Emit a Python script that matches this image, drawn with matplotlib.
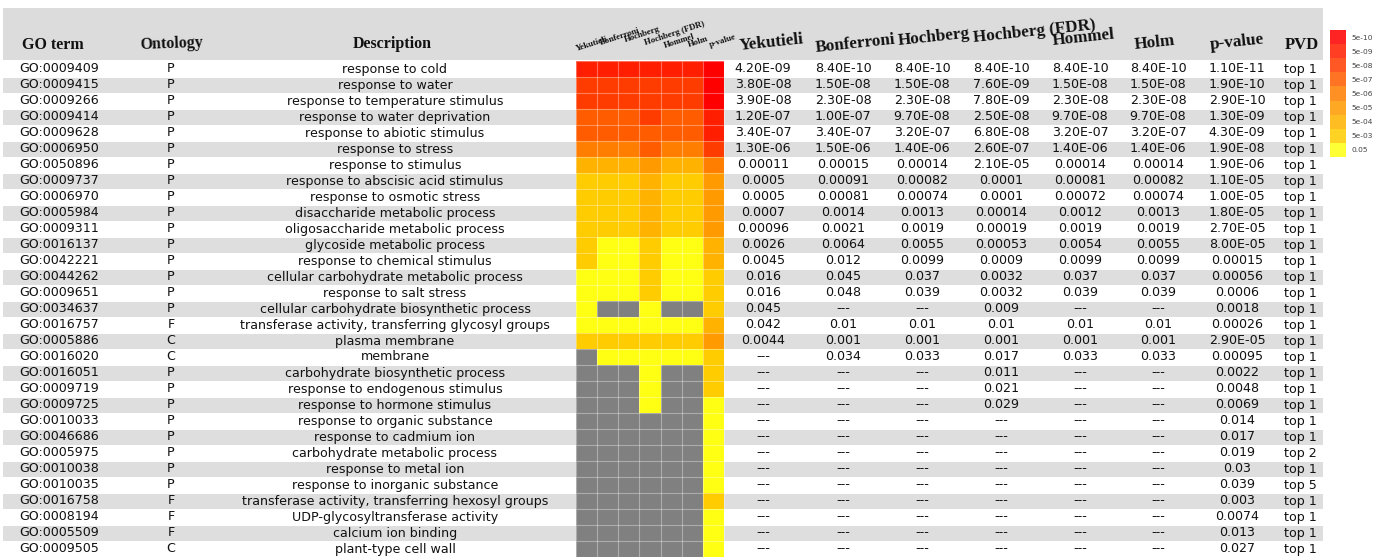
import numpy as np
import matplotlib
matplotlib.use('Agg')
import matplotlib.pyplot as plt
from matplotlib.colors import ListedColormap, BoundaryNorm

# ---- #
# data #
# ---- #
go_terms = ['GO:0009409', 'GO:0009415', 'GO:0009266', 'GO:0009414', 'GO:0009628',
            'GO:0006950', 'GO:0050896', 'GO:0009737', 'GO:0006970', 'GO:0005984',
            'GO:0009311', 'GO:0016137', 'GO:0042221', 'GO:0044262', 'GO:0009651',
            'GO:0034637', 'GO:0016757', 'GO:0005886', 'GO:0016020', 'GO:0016051',
            'GO:0009719', 'GO:0009725', 'GO:0010033', 'GO:0046686', 'GO:0005975',
            'GO:0010038', 'GO:0010035', 'GO:0016758', 'GO:0008194', 'GO:0005509',
            'GO:0009505']
ontology = ['P'] * 16 + ['F', 'C', 'C'] + ['P'] * 8 + ['F', 'F', 'F', 'C']
descriptions = ['response to cold', 'response to water', 'response to temperature stimulus',
                'response to water deprivation', 'response to abiotic stimulus',
                'response to stress', 'response to stimulus', 'response to abscisic acid stimulus',
                'response to osmotic stress', 'disaccharide metabolic process',
                'oligosaccharide metabolic process', 'glycoside metabolic process',
                'response to chemical stimulus', 'cellular carbohydrate metabolic process',
                'response to salt stress', 'cellular carbohydrate biosynthetic process',
                'transferase activity, transferring glycosyl groups', 'plasma membrane',
                'membrane', 'carbohydrate biosynthetic process', 'response to endogenous stimulus',
                'response to hormone stimulus', 'response to organic substance',
                'response to cadmium ion', 'carbohydrate metabolic process',
                'response to metal ion', 'response to inorganic substance',
                'transferase activity, transferring hexosyl groups',
                'UDP-glycosyltransferase activity', 'calcium ion binding', 'plant-type cell wall']

NA = '---'
yekutieli = ['4.20E-09', '3.80E-08', '3.90E-08', '1.20E-07', '3.40E-07', '1.30E-06',
             '0.00011', '0.0005', '0.0005', '0.0007', '0.00096', '0.0026', '0.0045',
             '0.016', '0.016', '0.045', '0.042', '0.0044'] + [NA] * 13
bonferroni = ['8.40E-10', '1.50E-08', '2.30E-08', '1.00E-07', '3.40E-07', '1.50E-06',
              '0.00015', '0.00091', '0.00081', '0.0014', '0.0021', '0.0064', '0.012',
              '0.045', '0.048', NA, '0.01', '0.001', '0.034'] + [NA] * 12
hochberg = ['8.40E-10', '1.50E-08', '2.30E-08', '9.70E-08', '3.20E-07', '1.40E-06',
            '0.00014', '0.00082', '0.00074', '0.0013', '0.0019', '0.0055', '0.0099',
            '0.037', '0.039', NA, '0.01', '0.001', '0.033'] + [NA] * 12
hochberg_fdr = ['8.40E-10', '7.60E-09', '7.80E-09', '2.50E-08', '6.80E-08', '2.60E-07',
                '2.10E-05', '0.0001', '0.0001', '0.00014', '0.00019', '0.00053', '0.0009',
                '0.0032', '0.0032', '0.009', '0.01', '0.001', '0.017', '0.011', '0.021',
                '0.029'] + [NA] * 9
hommel = ['8.40E-10', '1.50E-08', '2.30E-08', '9.70E-08', '3.20E-07', '1.40E-06',
          '0.00014', '0.00081', '0.00072', '0.0012', '0.0019', '0.0054', '0.0099',
          '0.037', '0.039', NA, '0.01', '0.001', '0.033'] + [NA] * 12
holm = ['8.40E-10', '1.50E-08', '2.30E-08', '9.70E-08', '3.20E-07', '1.40E-06',
        '0.00014', '0.00082', '0.00074', '0.0013', '0.0019', '0.0055', '0.0099',
        '0.037', '0.039', NA, '0.01', '0.001', '0.033'] + [NA] * 12
p_value = ['1.10E-11', '1.90E-10', '2.90E-10', '1.30E-09', '4.30E-09', '1.90E-08',
           '1.90E-06', '1.10E-05', '1.00E-05', '1.80E-05', '2.70E-05', '8.00E-05',
           '0.00015', '0.00056', '0.0006', '0.0018', '0.00026', '2.90E-05', '0.00095',
           '0.0022', '0.0048', '0.0069', '0.014', '0.017', '0.019', '0.03', '0.039',
           '0.003', '0.0074', '0.013', '0.027']
pvd = ['top 1'] * 24 + ['top 2', 'top 1', 'top 5'] + ['top 1'] * 4

methods = ['Yekutieli', 'Bonferroni', 'Hochberg', 'Hochberg (FDR)', 'Hommel', 'Holm', 'p-value']
method_columns = [yekutieli, bonferroni, hochberg, hochberg_fdr, hommel, holm, p_value]

level_labels = ['5e-10', '5e-09', '5e-08', '5e-07', '5e-06', '5e-05', '5e-04', '5e-03', '0.05']
level_bounds = [1e-13, 5e-10, 5e-09, 5e-08, 5e-07, 5e-06, 5e-05, 5e-04, 5e-03, 0.05]
level_colors = ['#ff0000', '#ff1e00', '#ff3c00', '#ff5c00', '#ff7e00',
                '#ff9a00', '#ffb200', '#ffcc00', '#ffff14']

# ------ #
# layout #
# ------ #
W, H = 1386, 558
row_top = 61
row_h = 16
n = len(go_terms)
row_y = row_top + row_h * np.arange(n) + row_h / 2
table_right = 1323
hm_left, hm_right = 576, 724
value_x = [763, 843, 922, 1001, 1080, 1158, 1237]
pvd_x = 1300

body_font = dict(family='DejaVu Sans', fontsize=9.1, color='#111111', va='center', ha='center')
head_font = dict(family='Liberation Serif', fontweight='bold', color='#111111')

fig = plt.figure(figsize=(W / 100, H / 100), dpi=100)
ax = fig.add_axes([0, 0, 1, 1])
ax.set_xlim(0, W)
ax.set_ylim(H, 0)
ax.axis('off')

# header band and striped rows
ax.barh(34, table_right - 3, height=52, left=3, color='#dcdcdc', zorder=0)
stripes = row_y[1::2]
ax.barh(stripes, table_right - 3, height=row_h - 1, left=3, color='#dedede', zorder=0)

# heatmap of the adjusted p-values
vals = np.array([[np.nan if s == NA else float(s) for s in col] for col in method_columns]).T
cmap = ListedColormap(level_colors)
cmap.set_bad('#808080')
norm = BoundaryNorm(level_bounds, cmap.N)
x_edges = np.linspace(hm_left, hm_right, len(methods) + 1)
y_edges = row_top + row_h * np.arange(n + 1)
ax.pcolormesh(x_edges, y_edges, np.ma.masked_invalid(vals), cmap=cmap, norm=norm, zorder=2)
ax.vlines(x_edges, y_edges[0], y_edges[-1], color='white', alpha=0.35, lw=0.8, zorder=3)
ax.hlines(y_edges, hm_left, hm_right, color='white', alpha=0.35, lw=0.8, zorder=3)

# small rotated labels over the heatmap
small_pos = [(577, 51), (601, 45), (625, 42), (645, 45), (665, 48), (689, 47), (710, 47)]
for name, (sx, sy) in zip(methods, small_pos):
    ax.text(sx, sy, name, fontsize=6.3, rotation=18, ha='left', va='baseline',
            rotation_mode='anchor', **head_font)

# column headers
ax.text(53, 45, 'GO term', fontsize=11.5, ha='center', va='center', **head_font)
ax.text(172, 44, 'Ontology', fontsize=11.5, ha='center', va='center', rotation=2, **head_font)
ax.text(392, 44, 'Description', fontsize=11.5, ha='center', va='center', **head_font)
head_pos = [(771, 43), (855, 44), (934, 37), (1034, 32), (1083, 38), (1155, 43), (1237, 42)]
for name, (hx, hy) in zip(methods, head_pos):
    ax.text(hx, hy, name, fontsize=12.3, rotation=6, ha='center', va='center', **head_font)
ax.text(1302, 45, 'PVD', fontsize=12, ha='center', va='center', **head_font)

# table body
for i in range(n):
    y = row_y[i]
    ax.text(59, y, go_terms[i], **body_font)
    ax.text(171, y, ontology[i], **body_font)
    ax.text(395, y, descriptions[i], **body_font)
    for col, x in zip(method_columns, value_x):
        ax.text(x, y, col[i], **body_font)
    ax.text(pvd_x, y, pvd[i], **body_font)

# colour key
cax = fig.add_axes([1330 / W, 1 - 157 / H, 16 / W, 127 / H])
cax.imshow(np.arange(len(level_labels))[:, None], cmap=cmap, aspect='auto', alpha=0.86)
cax.set_xticks([])
cax.yaxis.tick_right()
cax.set_yticks(range(len(level_labels)))
cax.set_yticklabels(level_labels, fontsize=5.4, color='#444444')
cax.tick_params(axis='y', length=0, pad=4)
for s in cax.spines.values():
    s.set_visible(False)

plt.savefig('out.png', dpi=100)
